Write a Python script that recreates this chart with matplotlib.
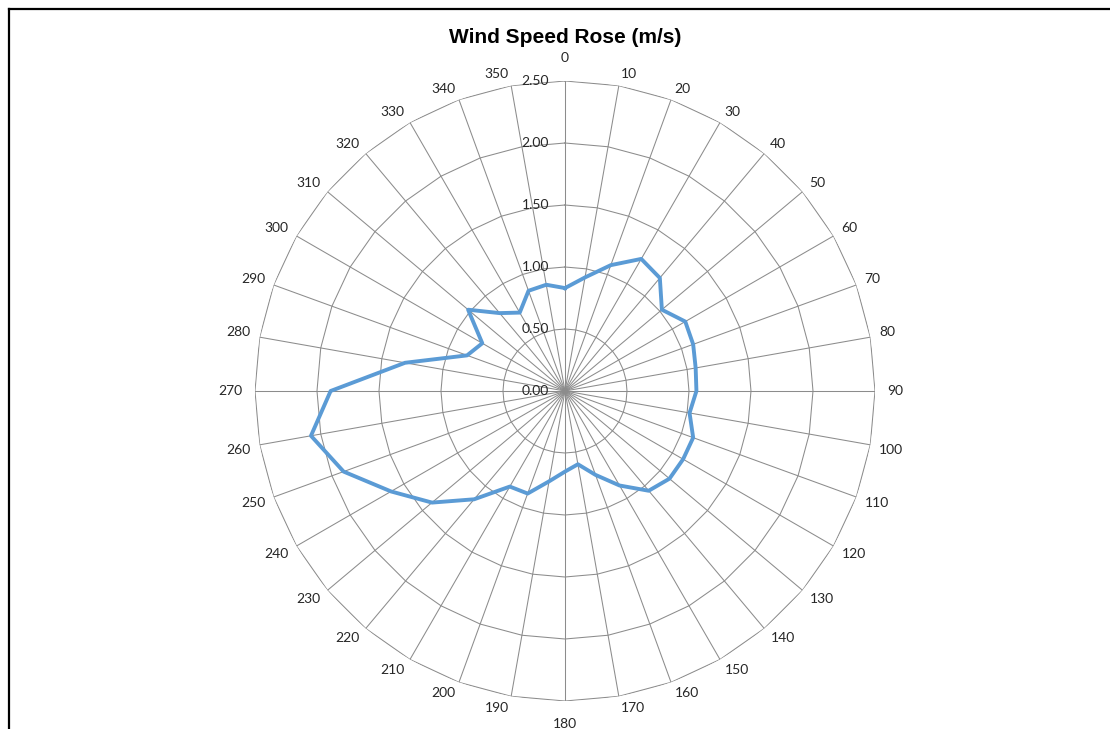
import numpy as np
import matplotlib
matplotlib.use('Agg')
import matplotlib.pyplot as plt
from matplotlib.lines import Line2D

# wind direction (deg) and mean speed (m/s)
directions = list(range(0, 360, 10))
speed = [0.83, 0.93, 1.08, 1.23, 1.19, 1.02, 1.12, 1.10, 1.07, 1.06,
         1.02, 1.10, 1.10, 1.10, 1.05, 0.88, 0.72, 0.60, 0.65, 0.74,
         0.88, 0.89, 1.14, 1.40, 1.62, 1.90, 2.08, 1.89, 1.31, 0.84,
         0.77, 1.02, 0.82, 0.73, 0.86, 0.87]
ring_levels = [0.5, 1.0, 1.5, 2.0, 2.5]
ring_labels = ['0.00', '0.50', '1.00', '1.50', '2.00', '2.50']
r_max = 2.5

grid_c = '#8c8c8c'
text_c = '#262626'
line_c = '#5B9BD5'
label_font = 'Lato'

fig = plt.figure(figsize=(11.1, 7.29), dpi=100)
ax = fig.add_axes([0.2297, 0.0384, 0.5586, 0.8505], projection='polar')
ax.set_theta_zero_location('N')
ax.set_theta_direction(-1)
ax.grid(False)
ax.spines['polar'].set_visible(False)

theta = np.deg2rad(directions)
closed_t = np.append(theta, theta[0])

# polygon rings and spokes (Excel radar style)
for lvl in ring_levels:
    ax.plot(closed_t, [lvl] * len(closed_t), color=grid_c, lw=0.75, zorder=1)
for t in theta:
    ax.plot([t, t], [0, r_max], color=grid_c, lw=0.75, zorder=1)

ax.plot(closed_t, speed + [speed[0]], color=line_c, lw=2.8, zorder=3,
        solid_joinstyle='round')

ax.set_ylim(0, r_max)
ax.set_yticks([])
ax.set_xticks(theta)
ax.set_xticklabels([])
ax.tick_params(axis='x', length=0)

# category labels: Excel puts the label box corner a small gap off the rim,
# cardinal labels sit a bit further out
gap = 8
for d, t in zip(directions, theta):
    s, c = np.sin(t), np.cos(t)
    half_w = len(str(d)) * 4.4
    half_h = 3.5
    dx = gap * s + (np.sign(s) * half_w if abs(s) > 0.01 else 0)
    dy = gap * c + (np.sign(c) * half_h if abs(c) > 0.01 else 0)
    if abs(s) < 0.01:
        dy += np.sign(c) * 11
    if abs(c) < 0.01:
        dx += np.sign(s) * 3
    ax.annotate(str(d), xy=(t, r_max), xytext=(dx * 0.72, dy * 0.72),
                textcoords='offset points', ha='center', va='center',
                fontsize=10, color=text_c, fontfamily=label_font)

for lvl, lab in zip([0] + ring_levels, ring_labels):
    ax.annotate(lab, xy=(0, lvl), xytext=(-11.5, 0), textcoords='offset points',
                ha='right', va='center', fontsize=10, color=text_c,
                fontfamily=label_font, zorder=4)

fig.text(0.509, 0.949, 'Wind Speed Rose (m/s)', ha='center', va='center',
         fontsize=15, fontweight='bold', fontfamily='Liberation Sans', color='black')

# chart frame (top and left edges visible in the crop)
fig.add_artist(Line2D([9 / 1110, 9 / 1110], [0, 1 - 9 / 729], color='black', lw=1.6))
fig.add_artist(Line2D([9 / 1110, 1], [1 - 9 / 729, 1 - 9 / 729], color='black', lw=1.6))

fig.savefig('out.png', dpi=100)
